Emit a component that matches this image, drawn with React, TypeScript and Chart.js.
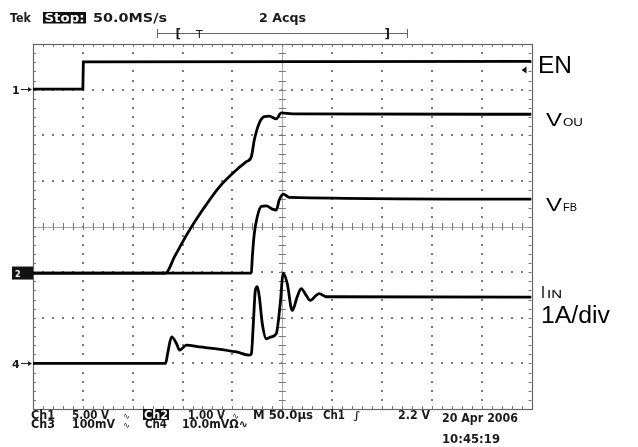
import React, { useEffect, useRef } from "react";
import { Chart, registerables } from "chart.js";

Chart.register(...registerables);

// Time axis in microseconds (50 µs/div, 10 div), vertical values in screen divisions (-4..4)
const T_EN = [0, 50, 50.5, 500];
const V_EN = [3.01, 3.01, 3.61, 3.62];

const T_OUT = [0, 133, 142, 155, 170, 187, 204, 214, 219, 222, 227, 232, 237, 244, 249, 260, 500];
const V_OUT = [-1.02, -1.02, -0.66, -0.15, 0.36, 0.87, 1.24, 1.42, 1.53, 1.9, 2.27, 2.41, 2.42, 2.36, 2.49, 2.47, 2.46];

const T_FB = [0, 219, 220, 222, 225, 229, 234, 240, 244, 247, 251, 257, 500];
const V_FB = [-1.02, -1.02, -0.66, -0.15, 0.22, 0.44, 0.45, 0.38, 0.36, 0.58, 0.71, 0.64, 0.6];

const T_IN = [0, 133, 135, 139, 144, 147, 154, 167, 184, 204, 217, 219, 221, 223, 225, 227, 230, 234, 239, 244, 248, 251, 255, 260, 265, 269, 274, 278, 284, 287, 294, 500];
const V_IN = [-3.0, -3.0, -2.79, -2.42, -2.57, -2.71, -2.6, -2.64, -2.68, -2.75, -2.82, -2.79, -2.13, -1.4, -1.32, -1.54, -2.13, -2.46, -2.42, -2.35, -1.69, -1.02, -1.25, -1.84, -1.54, -1.36, -1.51, -1.62, -1.51, -1.47, -1.54, -1.55];

const X_DIVS = 10;
const Y_DIVS = 8;
const TIME_PER_DIV = 50;

const HEADER_LEFT = ["Tek", "Stop:", "50.0MS/s", "2 Acqs"];
const FOOT_ROW1 = ["Ch1", "5.00 V", "∿", "Ch2", "1.00 V", "∿", "M 50.0µs", "Ch1", "∫", "2.2 V"];
const FOOT_ROW2 = ["Ch3", "100mV", "∿", "Ch4", "10.0mVΩ∿"];
const DATE_TEXT = ["20 Apr 2006", "10:45:19"];
const SIGNAL_LABELS = ["EN", "V", "OU", "V", "FB", "I", "IN", "1A/div"];

function pts(t: number[], v: number[]) {
  return t.map((x, i) => ({ x, y: v[i] }));
}

function txt(ctx: CanvasRenderingContext2D, s: string, x: number, y: number, font: string, color: string, w?: number) {
  ctx.save();
  ctx.font = font;
  ctx.fillStyle = color;
  ctx.textAlign = "left";
  ctx.textBaseline = "alphabetic";
  if (w) {
    const m = ctx.measureText(s).width;
    ctx.translate(x, y);
    ctx.scale(w / m, 1);
    ctx.fillText(s, 0, 0);
  } else {
    ctx.fillText(s, x, y);
  }
  ctx.restore();
}

const gridPlugin = {
  id: "scopeGrid",
  beforeDatasetsDraw(chart: any) {
    const ctx: CanvasRenderingContext2D = chart.ctx;
    const { left, right, top, bottom } = chart.chartArea;
    const dx = (right - left) / X_DIVS;
    const dy = (bottom - top) / Y_DIVS;
    const cx = left + dx * 5;
    const cy = top + dy * 4;
    ctx.save();
    // dotted grid
    ctx.fillStyle = "#7c7c7c";
    for (let i = 1; i < X_DIVS; i++) {
      if (i === 5) continue;
      const x = left + i * dx;
      for (let k = 1; k < Y_DIVS * 5; k++) {
        ctx.fillRect(Math.round(x) - 1, Math.round(top + (k * dy) / 5) - 1, 2, 2);
      }
    }
    for (let j = 1; j < Y_DIVS; j++) {
      if (j === 4) continue;
      const y = top + j * dy;
      for (let k = 1; k < X_DIVS * 5; k++) {
        ctx.fillRect(Math.round(left + (k * dx) / 5) - 1, Math.round(y) - 1, 2, 2);
      }
    }
    // center cross
    ctx.strokeStyle = "#a8a8a8";
    ctx.lineWidth = 1;
    ctx.beginPath();
    ctx.moveTo(left, Math.round(cy) + 0.5);
    ctx.lineTo(right, Math.round(cy) + 0.5);
    ctx.moveTo(Math.round(cx) + 0.5, top);
    ctx.lineTo(Math.round(cx) + 0.5, bottom);
    ctx.stroke();
    ctx.strokeStyle = "#777";
    ctx.beginPath();
    for (let k = 1; k < X_DIVS * 5; k++) {
      const x = Math.round(left + (k * dx) / 5) + 0.5;
      ctx.moveTo(x, cy - 3.5);
      ctx.lineTo(x, cy + 3.5);
    }
    for (let k = 1; k < Y_DIVS * 5; k++) {
      const y = Math.round(top + (k * dy) / 5) + 0.5;
      ctx.moveTo(cx - 3.5, y);
      ctx.lineTo(cx + 3.5, y);
    }
    // frame ticks
    for (let k = 1; k < X_DIVS * 5; k++) {
      const x = Math.round(left + (k * dx) / 5) + 0.5;
      ctx.moveTo(x, top);
      ctx.lineTo(x, top + 3);
      ctx.moveTo(x, bottom);
      ctx.lineTo(x, bottom - 3);
    }
    for (let k = 1; k < Y_DIVS * 5; k++) {
      const y = Math.round(top + (k * dy) / 5) + 0.5;
      ctx.moveTo(left, y);
      ctx.lineTo(left + 3, y);
      ctx.moveTo(right, y);
      ctx.lineTo(right - 3, y);
    }
    ctx.stroke();
    // frame
    ctx.strokeStyle = "#666";
    ctx.lineWidth = 1.2;
    ctx.strokeRect(Math.round(left) + 0.5, Math.round(top) + 0.5, Math.round(right - left), Math.round(bottom - top));
    ctx.restore();
  },
  afterDraw(chart: any) {
    const ctx: CanvasRenderingContext2D = chart.ctx;
    const yS = chart.scales.y;
    const { left, right } = chart.chartArea;
    const tf = 'bold 11.5px "DejaVu Sans"';
    const ink = "#1a1a1a";
    ctx.save();
    // header
    txt(ctx, HEADER_LEFT[0], 10, 21.5, tf, ink, 21);
    ctx.fillStyle = "#111";
    ctx.fillRect(43, 12, 43, 11.5);
    txt(ctx, HEADER_LEFT[1], 44.5, 21.5, tf, "#fff", 40);
    txt(ctx, HEADER_LEFT[2], 93, 21.5, tf, ink, 74);
    txt(ctx, HEADER_LEFT[3], 259, 21.5, tf, ink, 47);
    // trigger bracket
    ctx.strokeStyle = "#666";
    ctx.lineWidth = 1;
    ctx.beginPath();
    ctx.moveTo(157, 33.5);
    ctx.lineTo(407, 33.5);
    ctx.moveTo(157.5, 29);
    ctx.lineTo(157.5, 38);
    ctx.moveTo(407.5, 29);
    ctx.lineTo(407.5, 38);
    ctx.stroke();
    txt(ctx, "[", 175.5, 38, 'bold 12px "DejaVu Sans"', ink);
    txt(ctx, "T", 196, 38, '11px "DejaVu Sans"', ink);
    txt(ctx, "]", 384.5, 38, 'bold 12px "DejaVu Sans"', ink);
    // footer
    const r1 = 418.5;
    const r2 = 428;
    txt(ctx, FOOT_ROW1[0], 31, r1, tf, ink, 24);
    txt(ctx, FOOT_ROW1[1], 72, r1, tf, ink, 37);
    txt(ctx, FOOT_ROW1[2], 123, r1, '9px "DejaVu Sans"', ink, 7);
    ctx.fillStyle = "#111";
    ctx.fillRect(143, 409, 26, 11);
    txt(ctx, FOOT_ROW1[3], 144, r1, tf, "#fff", 24);
    txt(ctx, FOOT_ROW1[4], 188, r1, tf, ink, 37);
    txt(ctx, FOOT_ROW1[5], 232, r1, '9px "DejaVu Sans"', ink, 7);
    txt(ctx, FOOT_ROW1[6], 253, r1, tf, ink, 60);
    txt(ctx, FOOT_ROW1[7], 323, r1, tf, ink, 22);
    txt(ctx, FOOT_ROW1[8], 353, r1, '11px "DejaVu Sans"', ink, 8);
    txt(ctx, FOOT_ROW1[9], 398, r1, tf, ink, 32);
    txt(ctx, FOOT_ROW2[0], 31, r2, tf, ink, 24);
    txt(ctx, FOOT_ROW2[1], 72, r2, tf, ink, 43);
    txt(ctx, FOOT_ROW2[2], 123, r2, '9px "DejaVu Sans"', ink, 7);
    txt(ctx, FOOT_ROW2[3], 145, r2, tf, ink, 22);
    txt(ctx, FOOT_ROW2[4], 182, r2, tf, ink, 66);
    txt(ctx, DATE_TEXT[0], 442, 422, 'bold 12px "DejaVu Sans"', ink, 76);
    txt(ctx, DATE_TEXT[1], 442, 442.5, 'bold 12px "DejaVu Sans"', ink, 58);
    // channel markers on the left
    const mk = (label: string, yv: number) => {
      const y = Math.round(yS.getPixelForValue(yv)) + 0.5;
      txt(ctx, label, 12, y + 4.5, 'bold 11px "DejaVu Sans"', ink);
      ctx.strokeStyle = "#222";
      ctx.lineWidth = 1;
      ctx.beginPath();
      ctx.moveTo(21, y);
      ctx.lineTo(30, y);
      ctx.stroke();
      ctx.fillStyle = "#222";
      ctx.beginPath();
      ctx.moveTo(32, y);
      ctx.lineTo(28, y - 2.5);
      ctx.lineTo(28, y + 2.5);
      ctx.closePath();
      ctx.fill();
    };
    mk("1", V_EN[0]);
    mk("4", V_IN[0]);
    const y2 = yS.getPixelForValue(V_OUT[0]);
    ctx.fillStyle = "#111";
    ctx.fillRect(12, y2 - 6.5, left - 12, 13);
    txt(ctx, "2", 15, y2 + 3.5, 'bold 8px "DejaVu Sans"', "#fff");
    // trigger level marker on right
    const yt = yS.getPixelForValue(3.43);
    ctx.fillStyle = "#111";
    ctx.beginPath();
    ctx.moveTo(right - 10, yt);
    ctx.lineTo(right - 5, yt - 3.5);
    ctx.lineTo(right - 5, yt + 3.5);
    ctx.closePath();
    ctx.fill();
    // signal labels
    const lf = (px: number) => `${px}px "Liberation Sans"`;
    txt(ctx, SIGNAL_LABELS[0], 538, 73, lf(23), "#000", 34);
    txt(ctx, SIGNAL_LABELS[1], 546, 125.5, lf(19), "#000", 16);
    txt(ctx, SIGNAL_LABELS[2], 563, 126, lf(11), "#000", 20);
    txt(ctx, SIGNAL_LABELS[3], 546, 210.5, lf(19), "#000", 16);
    txt(ctx, SIGNAL_LABELS[4], 563, 211, lf(11), "#000", 14);
    txt(ctx, SIGNAL_LABELS[5], 541, 297.5, lf(17), "#000", 4);
    txt(ctx, SIGNAL_LABELS[6], 547, 298, lf(10), "#000", 15);
    txt(ctx, SIGNAL_LABELS[7], 541, 323, lf(23), "#000", 69);
    ctx.restore();
  },
};

export default function App() {
  const ref = useRef<HTMLCanvasElement | null>(null);
  useEffect(() => {
    if (!ref.current) return;
    const ds = (d: any, smooth: boolean) => ({
      data: d,
      borderColor: "#000",
      borderWidth: 2.8,
      pointRadius: 0,
      tension: smooth ? 0.4 : 0,
      cubicInterpolationMode: smooth ? "monotone" : "default",
      fill: false,
    });
    const chart = new Chart(ref.current, {
      type: "line",
      data: {
        datasets: [
          ds(pts(T_EN, V_EN), false),
          ds(pts(T_OUT, V_OUT), true),
          ds(pts(T_FB, V_FB), true),
          ds(pts(T_IN, V_IN), true),
        ],
      },
      options: {
        responsive: false,
        animation: false,
        layout: { padding: { left: 33, right: 106.5, top: 44, bottom: 38 } },
        plugins: { legend: { display: false }, tooltip: { enabled: false } },
        scales: {
          x: { type: "linear", min: 0, max: X_DIVS * TIME_PER_DIV, display: false },
          y: { type: "linear", min: -Y_DIVS / 2, max: Y_DIVS / 2, display: false },
        },
      },
      plugins: [gridPlugin],
    } as any);
    return () => chart.destroy();
  }, []);
  return (
    <div style={{ position: "fixed", left: 0, top: 0, width: 638, height: 447, background: "#fff" }}>
      <canvas ref={ref} width={638} height={447} />
    </div>
  );
}
